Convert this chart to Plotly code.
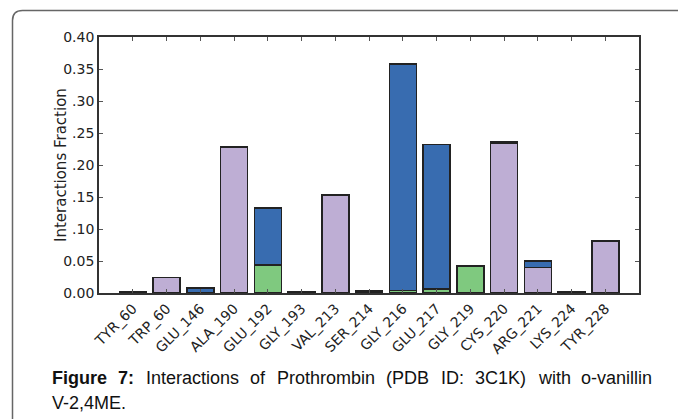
import plotly.graph_objects as go

# ---------------- data ----------------
residues = ["TYR_60", "TRP_60", "GLU_146", "ALA_190", "GLU_192", "GLY_193", "VAL_213",
            "SER_214", "GLY_216", "GLU_217", "GLY_219", "CYS_220", "ARG_221", "LYS_224", "TYR_228"]
h_bonds = [None, None, None, None, 0.044, None, None, None, 0.004, 0.006, 0.042, None, None, None, None]
hydrophobic = [0.0015, 0.024, None, 0.228, None, 0.0015, 0.153, None, None, None, None, 0.234, 0.040, 0.002, 0.081]
water_bridges = [None, None, 0.008, None, 0.089, None, None, 0.003, 0.354, 0.226, None, 0.002, 0.010, None, None]

y_tickvals = [0.0, 0.05, 0.10, 0.15, 0.20, 0.25, 0.30, 0.35, 0.40]
y_ticktext = ["0.00", "0.05", ".10", ".15", ".20", ".25", ".30", "0.35", "0.40"]

caption_words = [("Figure", True), ("7:", True), ("Interactions", False), ("of", False),
                 ("Prothrombin", False), ("(PDB", False), ("ID:", False), ("3C1K)", False),
                 ("with", False), ("o-vanillin", False)]
caption_line2 = "V-2,4ME."

# ---------------- layout geometry ----------------
W, H = 678, 419
L, R, T, B = 99, 639, 37, 293


def px(x):
    return (x - L) / (R - L)


def py(y):
    return (B - y) / (B - T)


edge = dict(color="#222222", width=1.5)
fig = go.Figure()
fig.add_trace(go.Bar(x=residues, y=h_bonds, marker=dict(color="#7fc97f", line=edge), name="H-bonds"))
fig.add_trace(go.Bar(x=residues, y=hydrophobic, marker=dict(color="#beaed4", line=edge), name="Hydrophobic"))
fig.add_trace(go.Bar(x=residues, y=water_bridges, marker=dict(color="#386cb0", line=edge), name="Water bridges"))

tickfont = dict(family="DejaVu Sans", size=14, color="#222222")
fig.update_layout(
    width=W, height=H,
    margin=dict(l=L, r=W - R, t=T, b=H - B, pad=0),
    paper_bgcolor="white", plot_bgcolor="white",
    barmode="stack", bargap=0.2, showlegend=False,
    xaxis=dict(type="category", range=[-1, len(residues)], showgrid=False, zeroline=False,
               showline=True, linecolor="#333333", linewidth=1.8, mirror="ticks",
               ticks="inside", ticklen=4, tickcolor="#555555", tickwidth=1,
               tickangle=-45, tickfont=tickfont),
    yaxis=dict(range=[0, 0.40], showgrid=False, zeroline=False,
               showline=True, linecolor="#333333", linewidth=1.8, mirror="ticks",
               ticks="inside", ticklen=4, tickcolor="#555555", tickwidth=1,
               tickvals=y_tickvals, ticktext=y_ticktext, tickfont=tickfont),
)

# y axis title
fig.add_annotation(text="Interactions Fraction", xref="paper", yref="paper",
                   x=px(61), y=py(165), textangle=-90, showarrow=False,
                   font=dict(family="DejaVu Sans", size=15, color="#222222"),
                   xanchor="center", yanchor="middle")

# outer rounded frame
x0, y0, rad = 12.5, 10.5, 10
path = (f"M {px(x0)} {py(H + 20)} L {px(x0)} {py(y0 + rad)} "
        f"Q {px(x0)} {py(y0)} {px(x0 + rad)} {py(y0)} L {px(W + 20)} {py(y0)}")
fig.add_shape(type="path", path=path, xref="paper", yref="paper",
              line=dict(color="#666666", width=1.5))

# caption (justified first line)
fs = 18
arial_reg = {'I': .278, 'n': .556, 't': .278, 'e': .556, 'r': .333, 'a': .556, 'c': .5, 'i': .222,
             'o': .556, 's': .5, 'f': .278, 'P': .667, 'h': .556, 'm': .833, 'b': .556, '(': .333,
             'D': .722, 'B': .667, ':': .278, '3': .556, 'C': .722, '1': .556, 'K': .667, ')': .333,
             'w': .722, '-': .333, 'v': .5, 'l': .222}
arial_bold = {'F': .611, 'i': .278, 'g': .611, 'u': .611, 'r': .389, 'e': .556, '7': .556, ':': .333}
widths = []
for w, bold in caption_words:
    tbl = arial_bold if bold else arial_reg
    widths.append(sum(tbl[c] for c in w) * fs)
x_start, x_end = 50, 650
gap = (x_end - x_start - sum(widths)) / (len(caption_words) - 1)
xcur = x_start
line1_y = 377.5
for (w, bold), wd in zip(caption_words, widths):
    txt = f"<b>{w}</b>" if bold else w
    fig.add_annotation(text=txt, xref="paper", yref="paper", x=px(xcur), y=py(line1_y),
                       showarrow=False, xanchor="left", yanchor="middle",
                       font=dict(family="Liberation Sans, Arial", size=fs, color="#111111"))
    xcur += wd + gap
fig.add_annotation(text=caption_line2, xref="paper", yref="paper", x=px(x_start), y=py(402.5),
                   showarrow=False, xanchor="left", yanchor="middle",
                   font=dict(family="Liberation Sans, Arial", size=fs, color="#111111"))

fig.write_html("out.html")
